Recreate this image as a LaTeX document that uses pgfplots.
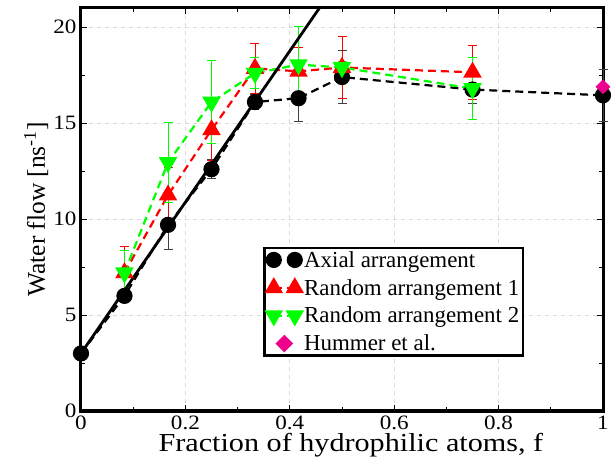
\documentclass[border=0pt]{standalone}
\usepackage{pgfplots}
\pgfplotsset{compat=1.18}
\usepackage{fontspec}
\setmainfont{Liberation Serif}

% widen a text horizontally, as the original's font is wider
\newcommand{\sx}[1]{\scalebox{1.13}[1]{#1}}

\pgfplotsset{
    pairlegend/.style={legend image code/.code={
        \draw[##1] plot coordinates {(0bp,0bp) (21bp,0bp)};}},
    singlelegend/.style={legend image code/.code={
        \draw[##1] plot coordinates {(10.5bp,0bp)};}},
}

\begin{document}
\begin{tikzpicture}[
    dashline/.style={line width=2.2bp, dash pattern=on 8bp off 5bp},
    ebar/.style={line width=0.9bp},
]
\begin{axis}[
    width=522bp, height=403bp, scale only axis,
    xmin=0, xmax=1, ymin=0, ymax=21,
    clip=false,
    xtick={0,0.2,0.4,0.6,0.8,1},
    xticklabels={\sx{0},\sx{0.2},\sx{0.4},\sx{0.6},\sx{0.8},\sx{1}},
    ytick={0,5,10,15,20},
    yticklabels={\sx{0},\sx{5},\sx{10},\sx{15},\sx{20}},
    minor x tick num=1, minor y tick num=1,
    tick align=inside,
    major tick length=6bp, minor tick length=4bp,
    tick style={line width=1bp, black},
    axis line style={line width=3bp},
    grid=major,
    major grid style={gray!30, line width=0.8bp, dash pattern=on 4bp off 4bp},
    tick label style={font=\fontsize{20.5}{21}\selectfont},
    xticklabel style={yshift=-1bp},
    yticklabel style={xshift=-1bp},
    xlabel={\scalebox{1.165}[1]{Fraction of hydrophilic atoms, f}},
    ylabel={Water flow [ns\textsuperscript{-1}]},
    xlabel style={font=\fontsize{26}{27}\selectfont,
        at={(axis description cs:0.1418,-0.1017)}, anchor=base west},
    ylabel style={font=\fontsize{25.5}{27}\selectfont,
        at={(axis description cs:-0.069,0.5)}, anchor=base, rotate=0},
    legend cell align=left,
    legend style={at={(axis description cs:0.349,0.407)}, anchor=north west,
        draw=black, line width=2.5bp, fill=white,
        font=\fontsize{23}{24}\selectfont,
        inner xsep=2bp, inner ysep=1bp, row sep=6.5bp,
        nodes={inner xsep=2bp, inner ysep=2bp}},
    pairlegend,
    error bars/y dir=both, error bars/y explicit,
    error bars/error mark options={rotate=90, mark size=4.5bp, line width=0.9bp},
]

\coordinate (sw) at (rel axis cs:0,0);
\coordinate (ne) at (rel axis cs:1,1);

% Axial arrangement
\addplot[black, dashline, mark=*, mark size=7bp, mark options={solid, fill=black},
    error bars/error bar style={black!75, ebar, solid}]
    coordinates {
    (0,3.0) +- (0,0)
    (0.0833,6.0) +- (0,0.3)
    (0.1667,9.7) +- (0,1.3)
    (0.25,12.6) +- (0,0.5)
    (0.3333,16.1) +- (0,0.4)
    (0.4167,16.3) +- (0,1.2)
    (0.5,17.4) +- (0,1.37)
    (0.75,16.75) +- (0,0.7)
    (1,16.45) +- (0,1.35)
    };
\addlegendentry{Axial arrangement}

% Random arrangement 1
\addplot[red, dashline, mark=triangle*, mark size=8.5bp, mark options={solid, fill=red},
    error bars/error bar style={red, ebar, solid}]
    coordinates {
    (0.0833,7.2) +- (0,1.4)
    (0.1667,11.25) +- (0,1.45)
    (0.25,14.65) +- (0,1.6)
    (0.3333,17.85) +- (0,1.3)
    (0.4167,17.7) +- (0,1.25)
    (0.5,17.9) +- (0,1.6)
    (0.75,17.65) +- (0,1.4)
    };
\addlegendentry{Random arrangement 1}

% Random arrangement 2
\addplot[green, dashline, mark=triangle*, mark size=8.5bp,
    mark options={solid, fill=green, rotate=180},
    error bars/error bar style={green, ebar, solid}]
    coordinates {
    (0.0833,7.2) +- (0,1.15)
    (0.1667,12.95) +- (0,2.1)
    (0.25,16.1) +- (0,2.15)
    (0.3333,17.6) +- (0,0.8)
    (0.4167,18.05) +- (0,2.0)
    (0.5,17.9) +- (0,0.3)
    (0.75,16.8) +- (0,1.6)
    };
\addlegendentry{Random arrangement 2}

% Hummer et al.
\addplot[magenta, only marks, mark=square*, mark size=5bp,
    mark options={rotate=45, fill=magenta}, singlelegend]
    coordinates {(1,16.9)};
\addlegendentry{Hummer et al.}

% linear fit
\addplot[black, line width=2.8bp, forget plot] coordinates {(0,3) (0.4568,21)};

\end{axis}
\pgfresetboundingbox
\path[use as bounding box] ([xshift=-81bp,yshift=-50bp]sw) rectangle ([xshift=8bp,yshift=8bp]ne);
\end{tikzpicture}
\end{document}
